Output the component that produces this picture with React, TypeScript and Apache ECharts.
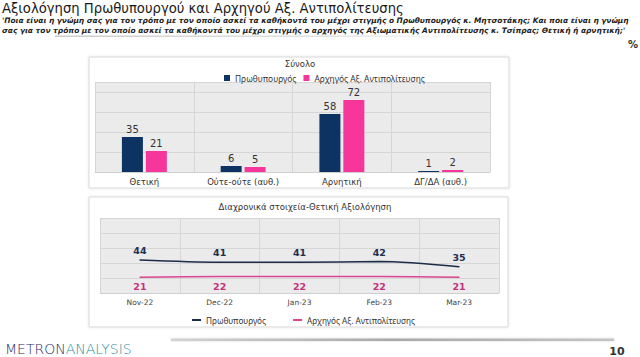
import React, { useEffect, useRef } from "react";
import * as echarts from "echarts";

const pageTitle = "Αξιολόγηση Πρωθυπουργού και Αρχηγού Αξ. Αντιπολίτευσης";
const questionLine1 =
  "'Ποια είναι η γνώμη σας για τον τρόπο με τον οποίο ασκεί τα καθήκοντά του μέχρι στιγμής ο Πρωθυπουργός κ. Μητσοτάκης; Και ποια είναι η γνώμη";
const questionLine2 =
  "σας για τον τρόπο με τον οποίο ασκεί τα καθήκοντά του μέχρι στιγμής ο αρχηγός της Αξιωματικής Αντιπολίτευσης κ. Τσίπρας; Θετική ή αρνητική;'";

const seriesNames = ["Πρωθυπουργός", "Αρχηγός Αξ. Αντιπολίτευσης"];

const barTitle = "Σύνολο";
const categories = ["Θετική", "Ούτε-ούτε (αυθ.)", "Αρνητική", "ΔΓ/ΔΑ (αυθ.)"];
const pmTotal = [35, 6, 58, 1];
const oppTotal = [21, 5, 72, 2];

const lineTitle = "Διαχρονικά στοιχεία-Θετική Αξιολόγηση";
const months = ["Nov-22", "Dec-22", "Jan-23", "Feb-23", "Mar-23"];
const pmTrend = [44, 41, 41, 42, 35];
const oppTrend = [21, 22, 22, 22, 21];

const NAVY = "#0d3363";
const PINK = "#f6369a";
const NAVY_LINE = "#1b2c48";
const PINK_LINE = "#d9468f";
const FONT = "DejaVu Sans";
const LEGEND_FONT = "Noto Sans";

export default function App() {
  const ref = useRef<HTMLDivElement>(null);

  useEffect(() => {
    if (!ref.current) return;
    const chart = echarts.init(ref.current, undefined, { renderer: "svg" });

    const txt = (
      x: number,
      y: number,
      text: string,
      fontSize: number,
      color: string,
      extra: any = {}
    ) => ({
      type: "text",
      x,
      y,
      style: {
        text,
        fontSize,
        fill: color,
        fontFamily: extra.fontFamily || FONT,
        textAlign: extra.align || "left",
        align: extra.align || "left",
        textVerticalAlign: "middle",
        verticalAlign: "middle",
        fontWeight: extra.fontWeight || "normal",
        fontStyle: extra.fontStyle || "normal",
      },
      z: 10,
    });

    const option: any = {
      animation: false,
      backgroundColor: "#ffffff",
      textStyle: { fontFamily: FONT },
      graphic: [
        {
          type: "rect",
          z: -5,
          shape: { x: 89, y: 57, width: 420, height: 131 },
          style: {
            fill: "#ffffff",
            stroke: "#d9d9d9",
            lineWidth: 1,
            shadowBlur: 3,
            shadowColor: "rgba(0,0,0,0.10)",
          },
        },
        {
          type: "rect",
          z: -5,
          shape: { x: 89, y: 197, width: 419, height: 130 },
          style: {
            fill: "#ffffff",
            stroke: "#d9d9d9",
            lineWidth: 1,
            shadowBlur: 3,
            shadowColor: "rgba(0,0,0,0.10)",
          },
        },
        {
          type: "rect",
          z: -5,
          shape: { x: 55, y: 35.5, width: 450, height: 1.5 },
          style: {
            fill: {
              type: "linear",
              x: 0,
              y: 0,
              x2: 1,
              y2: 0,
              colorStops: [
                { offset: 0, color: "rgba(150,150,150,0.5)" },
                { offset: 0.6, color: "rgba(170,170,170,0.35)" },
                { offset: 1, color: "rgba(200,200,200,0)" },
              ],
            },
          },
        },
        {
          type: "rect",
          z: -5,
          shape: { x: 171, y: 338.5, width: 443, height: 2.5 },
          style: {
            fill: {
              type: "linear",
              x: 0,
              y: 0,
              x2: 1,
              y2: 0,
              colorStops: [
                { offset: 0, color: "#d3d3d3" },
                { offset: 0.5, color: "#a8a8a8" },
                { offset: 1, color: "#c4c4c4" },
              ],
            },
            shadowBlur: 2,
            shadowColor: "rgba(0,0,0,0.15)",
          },
        },
        txt(2, 8, pageTitle, 13.2, "#1a1a1a"),
        txt(2, 20, questionLine1, 7.45, "#222", { fontStyle: "italic", fontWeight: "bold" }),
        txt(2, 30.5, questionLine2, 7.45, "#222", { fontStyle: "italic", fontWeight: "bold" }),
        txt(638, 44, "%", 10, "#333", { fontWeight: "bold", align: "right" }),
        txt(300, 64, barTitle, 8.5, "#333", { align: "center" }),
        txt(305, 207, lineTitle, 8.5, "#333", { align: "center" }),
        txt(617, 351, "10", 11, "#333", { fontWeight: "bold", align: "center" }),
        {
          type: "text",
          x: 5,
          y: 349,
          z: 10,
          style: {
            text: "{a|METRON}{b|ANALYSIS}",
            fontFamily: FONT,
            fontSize: 14,
            textVerticalAlign: "middle",
            verticalAlign: "middle",
            rich: {
              a: { fill: "#1f2d5c", fontSize: 14, fontFamily: FONT, fontWeight: 300 },
              b: { fill: "#2b8f9e", fontSize: 14, fontFamily: FONT, fontWeight: 300 },
            },
          },
        },
      ],
      legend: [
        {
          left: 219,
          top: 69,
          icon: "rect",
          itemWidth: 6,
          itemHeight: 6,
          itemGap: 7,
          textStyle: { fontSize: 8.4, color: "#333", fontFamily: LEGEND_FONT },
          data: [
            { name: seriesNames[0], itemStyle: { color: NAVY } },
            { name: seriesNames[1], itemStyle: { color: PINK } },
          ],
        },
        {
          left: 187,
          top: 311,
          icon: "rect",
          itemWidth: 9,
          itemHeight: 2,
          itemGap: 27,
          textStyle: { fontSize: 8.2, color: "#333", fontFamily: LEGEND_FONT },
          data: [
            { name: seriesNames[0], itemStyle: { color: NAVY_LINE } },
            { name: seriesNames[1], itemStyle: { color: PINK_LINE } },
          ],
        },
      ],
      grid: [
        {
          left: 95,
          top: 82,
          width: 395,
          height: 90,
          show: true,
          backgroundColor: "#ebebeb",
          borderWidth: 0,
        },
        {
          left: 100,
          top: 218,
          width: 399,
          height: 75,
          show: true,
          backgroundColor: "#ebebeb",
          borderWidth: 0,
        },
      ],
      xAxis: [
        {
          type: "category",
          gridIndex: 0,
          data: categories,
          axisLine: { show: true, lineStyle: { color: "#cfcfcf" } },
          axisTick: { show: false },
          splitLine: { show: true, lineStyle: { color: "#d6d6d6", width: 1 } },
          axisLabel: { fontSize: 8.5, color: "#333", margin: 5, fontFamily: FONT },
        },
        {
          type: "category",
          gridIndex: 1,
          data: months,
          boundaryGap: true,
          axisLine: { show: true, lineStyle: { color: "#cfcfcf" } },
          axisTick: { show: false },
          splitLine: { show: true, lineStyle: { color: "#d6d6d6", width: 1 } },
          axisLabel: { fontSize: 7.5, color: "#444", margin: 5, fontFamily: FONT },
        },
      ],
      yAxis: [
        {
          type: "value",
          gridIndex: 0,
          min: 0,
          max: 90,
          interval: 20,
          axisLabel: { show: false },
          axisLine: { show: false },
          axisTick: { show: false },
          splitLine: { show: true, lineStyle: { color: "#d6d6d6" } },
        },
        {
          type: "value",
          gridIndex: 1,
          min: 0,
          max: 100,
          interval: 20,
          axisLabel: { show: false },
          axisLine: { show: false },
          axisTick: { show: false },
          splitLine: { show: true, lineStyle: { color: "#d6d6d6" } },
        },
      ],
      series: [
        {
          name: seriesNames[0],
          type: "bar",
          xAxisIndex: 0,
          yAxisIndex: 0,
          data: pmTotal,
          barWidth: 21,
          barGap: "14%",
          itemStyle: { color: NAVY },
          label: {
            show: true,
            position: "top",
            distance: 3,
            fontSize: 10,
            color: "#333",
            fontFamily: FONT,
          },
        },
        {
          name: seriesNames[1],
          type: "bar",
          xAxisIndex: 0,
          yAxisIndex: 0,
          data: oppTotal,
          barWidth: 21,
          itemStyle: { color: PINK },
          label: {
            show: true,
            position: "top",
            distance: 3,
            fontSize: 10,
            color: "#333",
            fontFamily: FONT,
          },
        },
        {
          name: seriesNames[0],
          type: "line",
          xAxisIndex: 1,
          yAxisIndex: 1,
          data: pmTrend,
          smooth: 0.3,
          symbol: "circle",
          symbolSize: 1,
          lineStyle: { color: NAVY_LINE, width: 1.5 },
          itemStyle: { color: NAVY_LINE },
          label: {
            show: true,
            position: "top",
            distance: 4,
            fontSize: 9.5,
            fontWeight: "bold",
            color: "#1e3050",
            fontFamily: FONT,
          },
        },
        {
          name: seriesNames[1],
          type: "line",
          xAxisIndex: 1,
          yAxisIndex: 1,
          data: oppTrend,
          smooth: 0.3,
          symbol: "circle",
          symbolSize: 1,
          lineStyle: { color: PINK_LINE, width: 1.5 },
          itemStyle: { color: PINK_LINE },
          label: {
            show: true,
            position: "bottom",
            distance: 4,
            fontSize: 9.5,
            fontWeight: "bold",
            color: "#c2347a",
            fontFamily: FONT,
          },
        },
      ],
    };

    chart.setOption(option);
    return () => chart.dispose();
  }, []);

  return (
    <div
      ref={ref}
      style={{ position: "fixed", left: 0, top: 0, width: 640, height: 357 }}
    />
  );
}
